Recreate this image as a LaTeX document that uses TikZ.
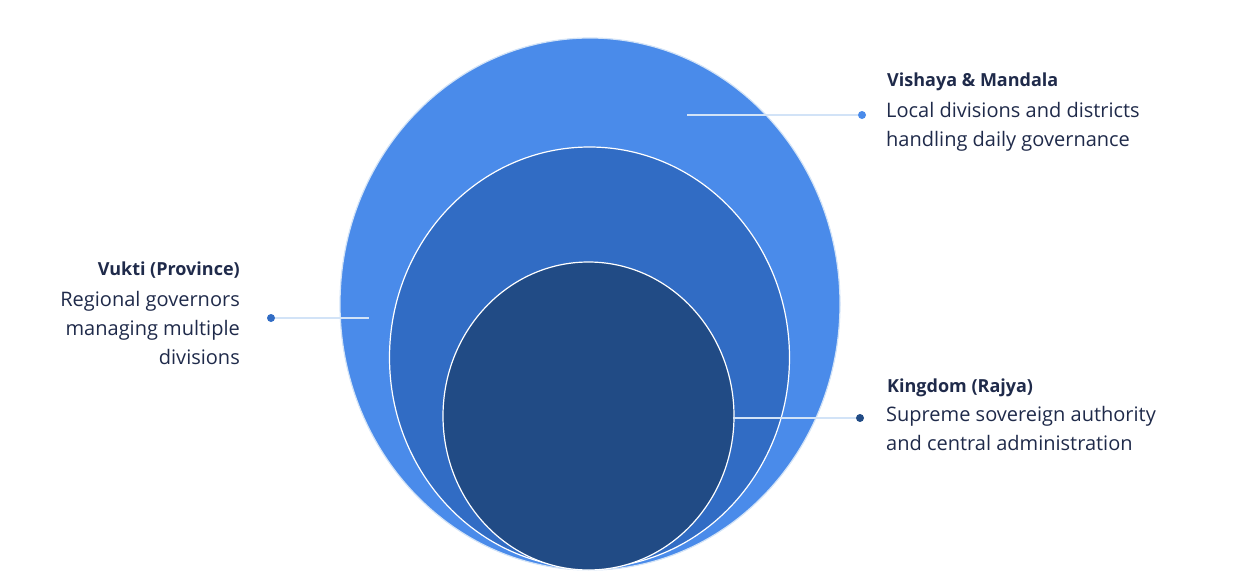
\documentclass[tikz,border=0pt]{standalone}
\usepackage{fontspec}
\setmainfont{Open Sans}
\begin{document}
\begin{tikzpicture}[x=1pt,y=-1pt,
  ring/.style={draw=white,line width=1.2pt},
  lead/.style={draw=leadc,line width=2pt},
  dotc/.style={circle,inner sep=0pt,minimum size=8pt},
  ttl/.style={font=\fontsize{18}{22}\selectfont\bfseries,text=txt,inner sep=0pt},
  body/.style={font=\fontsize{20}{29}\selectfont,text=txt,inner sep=0pt}]
\definecolor{c1}{HTML}{4A8BEA}
\definecolor{c2}{HTML}{316CC4}
\definecolor{c3}{HTML}{214B85}
\definecolor{leadc}{HTML}{D2E3F7}
\definecolor{txt}{HTML}{1F2A4A}
\useasboundingbox (0,0) rectangle (1252,586);
\fill[c1,draw=leadc,line width=1.2pt] (590,304) ellipse [x radius=250,y radius=266];
\fill[c2,ring] (589.5,357.5) ellipse [x radius=200,y radius=210.5];
\fill[c3,ring] (588.5,416) ellipse [x radius=145.5,y radius=154];
\coordinate (a1) at (687,115);
\coordinate (a2) at (369,318);
\coordinate (a3) at (733,418);
\node[dotc,fill=c1] (d1) at (862,115) {};
\node[dotc,fill=c2] (d2) at (271,318) {};
\node[dotc,fill=c3] (d3) at (860,418) {};
\draw[lead] (a1) -- (d1);
\draw[lead] (d2) -- (a2);
\draw[lead] (a3) -- (d3);
\node[ttl,anchor=base west] (t1) at (887,86) {Vishaya \& Mandala};
\node[body,anchor=north west,align=left] (b1) at (886,102) {Local divisions and districts\\handling daily governance};
\node[ttl,anchor=base east] (t2) at (240,275) {Vukti (Province)};
\node[body,anchor=north east,align=right] (b2) at (240,291) {Regional governors\\managing multiple\\divisions};
\node[ttl,anchor=base west] (t3) at (887,392) {Kingdom (Rajya)};
\node[body,anchor=north west,align=left] (b3) at (886,406) {Supreme sovereign authority\\and central administration};
\end{tikzpicture}
\end{document}
